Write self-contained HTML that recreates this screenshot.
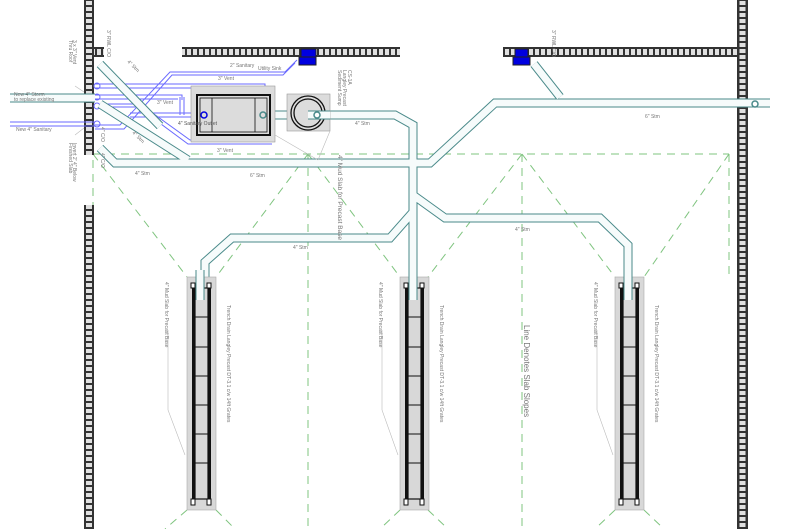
<!DOCTYPE html>
<html><head><meta charset="utf-8"><style>
html,body{margin:0;padding:0;background:#fff;}
svg{display:block;font-family:"Liberation Sans",sans-serif;}
.t{fill:#777;font-size:5px;}
.pc{fill:none;stroke:#4a8a8a;stroke-width:9;stroke-linejoin:miter;}
.pi{fill:none;stroke:#f6fbfb;stroke-width:7;stroke-linejoin:miter;}
.v{fill:none;stroke:#6a6aff;stroke-width:1;}
.g{fill:none;stroke:#7fc47f;stroke-width:1;stroke-dasharray:8,6;}
</style></head><body>
<svg width="811" height="529" viewBox="0 0 811 529" xmlns="http://www.w3.org/2000/svg">
<defs>
<pattern id="wv1" x="84" y="0" width="10" height="6" patternUnits="userSpaceOnUse"><rect width="10" height="6" fill="#333"/><rect x="2" y="1" width="6" height="4" fill="#e0e0e0"/></pattern>
<pattern id="wv2" x="737" y="0" width="11" height="6" patternUnits="userSpaceOnUse"><rect width="11" height="6" fill="#333"/><rect x="2.5" y="1" width="6" height="4" fill="#e0e0e0"/></pattern>
<pattern id="wh" x="0" y="47" width="6" height="10" patternUnits="userSpaceOnUse"><rect width="6" height="10" fill="#333"/><rect x="1" y="2" width="4" height="6" fill="#e0e0e0"/></pattern>
<g id="tr">
<rect x="0" y="0" width="29" height="233" fill="#d8d8d8" stroke="#aaa" stroke-width="0.6"/>
<rect x="5" y="7" width="3" height="219" fill="#111"/><rect x="21" y="7" width="3" height="219" fill="#111"/>
<rect x="8" y="11" width="13" height="211" fill="none" stroke="#111" stroke-width="1.2"/>
<path d="M8 40h13M8 70h13M8 99h13M8 128h13M8 157h13M8 186h13" stroke="#111" stroke-width="1"/>
<rect x="4" y="6" width="4" height="5" fill="#fff" stroke="#111"/><rect x="20" y="6" width="4" height="5" fill="#fff" stroke="#111"/>
<rect x="4" y="222" width="4" height="6" fill="#fff" stroke="#111"/><rect x="20" y="222" width="4" height="6" fill="#fff" stroke="#111"/>
</g>
</defs>
<path class="g" d="M93 154H729M308 154V529M522 154V529M729 154V280M93 160V529"/>
<path class="g" d="M93 154L187 277M308 154L216 277M308 154L400 277M522 154L428 277M522 154L615 277M729 154L644 277"/>
<path class="g" d="M187 510L165 529M216 510L235 529M400 510L380 529M428 510L448 529M615 510L595 529M644 510L664 529"/>
<rect x="84" y="0" width="10" height="155" fill="url(#wv1)"/>
<rect x="84" y="205" width="10" height="324" fill="url(#wv1)"/>
<rect x="94" y="47" width="10" height="10" fill="url(#wh)"/>
<rect x="182" y="47" width="218" height="10" fill="url(#wh)"/>
<rect x="503" y="47" width="235" height="10" fill="url(#wh)"/>
<rect x="737" y="0" width="11" height="529" fill="url(#wv2)"/>
<rect x="301" y="49" width="15" height="8" fill="#0000e0" stroke="#222"/><rect x="299" y="57" width="17" height="8" fill="#0000e0" stroke="#222"/>
<rect x="515" y="49" width="13" height="8" fill="#0000e0" stroke="#222"/><rect x="513" y="57" width="17" height="8" fill="#0000e0" stroke="#222"/>
<path class="v" d="M95 84H265V94M95 88H260M95 95H182V100M95 99H178M95 125H120L170 72H285L297 60M95 129H124L172 75H283L295 63"/>
<path class="v" d="M104 104H140L190 140H270M104 107H138L188 144H272M130 113H200M130 117H200M180 97V115M184 97V115"/>
<circle cx="97" cy="86" r="3" class="v" fill="#fff" stroke-width="2"/><circle cx="97" cy="97" r="3" class="v" fill="#fff" stroke-width="2"/><circle cx="97" cy="106" r="3" class="v" fill="#fff" stroke-width="2"/><circle cx="97" cy="124" r="3" class="v" fill="#fff" stroke-width="2"/>
<g>
<path class="pc" d="M10 98H95M100 64L160 126M100 104L188 160M100 148L115 163H430L495 103H770M268 115H395L413 125V280M413 195L445 218H600L628 245V290M413 212L390 238H232L205 262V290M534 64L560 97"/>
<path class="pi" d="M10 98H95M100 64L160 126M100 104L188 160M100 148L115 163H430L495 103H770M268 115H395L413 125V280M413 195L445 218H600L628 245V290M413 212L390 238H232L205 262V290M534 64L560 97"/>
</g>
<path d="M10 122H95M10 126H95" stroke="#6a6aff" stroke-width="1"/>
<rect x="191" y="86" width="84" height="56" fill="#dcdcdc" stroke="#999" stroke-width="0.6"/>
<rect x="197" y="95" width="73" height="40" fill="none" stroke="#111" stroke-width="2"/>
<rect x="200" y="98" width="67" height="34" fill="none" stroke="#111" stroke-width="0.8"/>
<path d="M212 98V132M255 98V132" stroke="#111" stroke-width="0.8"/>
<circle cx="204" cy="115" r="3" fill="none" stroke="#0000e0" stroke-width="1.5"/>
<circle cx="263" cy="115" r="3" fill="none" stroke="#4a8a8a" stroke-width="1.5"/>
<rect x="287" y="94" width="43" height="37" fill="#dcdcdc" stroke="#999" stroke-width="0.6"/>
<circle cx="308" cy="113" r="17" fill="none" stroke="#111" stroke-width="1.3"/>
<circle cx="308" cy="113" r="14" fill="none" stroke="#111" stroke-width="1.3"/>
<path class="pc" d="M308 115H330"/><path class="pi" d="M308 115H330"/>
<circle cx="317" cy="115" r="3" fill="#fff" stroke="#4a8a8a" stroke-width="1.5"/>
<circle cx="755" cy="104" r="3" fill="#fff" stroke="#4a8a8a" stroke-width="1.5"/>
<use href="#tr" x="187" y="277"/><use href="#tr" x="400" y="277"/><use href="#tr" x="615" y="277"/>
<path class="pc" d="M200 270V300M413 270V300M628 270V300"/><path class="pi" d="M200 270V300M413 270V300M628 270V300"/>
<path d="M168 330V410L185 455M382 330V410L398 455M597 330V410L613 455M275 135L318 160M330 131L318 160M75 86L84 92M75 135L84 128" stroke="#bbb" stroke-width="0.6" fill="none"/>
<g class="t">
<text x="14" y="96">New 4" Storm</text><text x="14" y="101">to replace existing</text>
<text x="16" y="131">New 4" Sanitary</text>
<text x="258" y="70">Utility Sink</text><text x="230" y="67">2" Sanitary</text>
<text x="218" y="80">3" Vent</text><text x="157" y="104">3" Vent</text><text x="217" y="152">3" Vent</text>
<text x="178" y="125" fill="#555">4" Sanitary Outlet</text>
<text x="355" y="125">4" Stm</text><text x="135" y="175">4" Stm</text><text x="250" y="177">6" Stm</text>
<text x="645" y="118">6" Stm</text><text x="293" y="249">4" Stm</text><text x="515" y="231">4" Stm</text>
<text transform="translate(127,62) rotate(45)">4" Stm</text><text transform="translate(132,133) rotate(45)">4" Stm</text>
<text transform="translate(107,30) rotate(90)">3" RWL C/O</text>
<text transform="translate(73,40) rotate(90)">3 x 3" Vent</text><text transform="translate(69,40) rotate(90)">Thru Roof</text>
<text transform="translate(73,143) rotate(90)">Invert 2' 4" Below</text><text transform="translate(69,143) rotate(90)">Finished Slab</text>
<text transform="translate(101,127) rotate(90)">4" C/O</text><text transform="translate(101,153) rotate(90)">4" C/O</text>
<text transform="translate(552,30) rotate(90)">3" RWL C/O</text>
<text transform="translate(338,70) rotate(90)">Sediment Sump</text><text transform="translate(343,70) rotate(90)">Langley Precast</text><text transform="translate(348,70) rotate(90)">CS-1A</text>
<text transform="translate(338,155) rotate(90)" style="font-size:6.5px">4" Mud Slab for Precast Base</text>
<text transform="translate(165,282) rotate(90)">4" Mud Slab for Precast Base</text>
<text transform="translate(379,282) rotate(90)">4" Mud Slab for Precast Base</text>
<text transform="translate(594,282) rotate(90)">4" Mud Slab for Precast Base</text>
<text transform="translate(227,305) rotate(90)">Trench Drain Langley Precast DT-3.1 c/w 14ft Grates</text>
<text transform="translate(440,305) rotate(90)">Trench Drain Langley Precast DT-3.1 c/w 14ft Grates</text>
<text transform="translate(655,305) rotate(90)">Trench Drain Langley Precast DT-3.1 c/w 14ft Grates</text>
<text transform="translate(524,325) rotate(90)" style="font-size:8px">Line Denotes Slab Slopes</text>
</g>
</svg>
</body></html>
